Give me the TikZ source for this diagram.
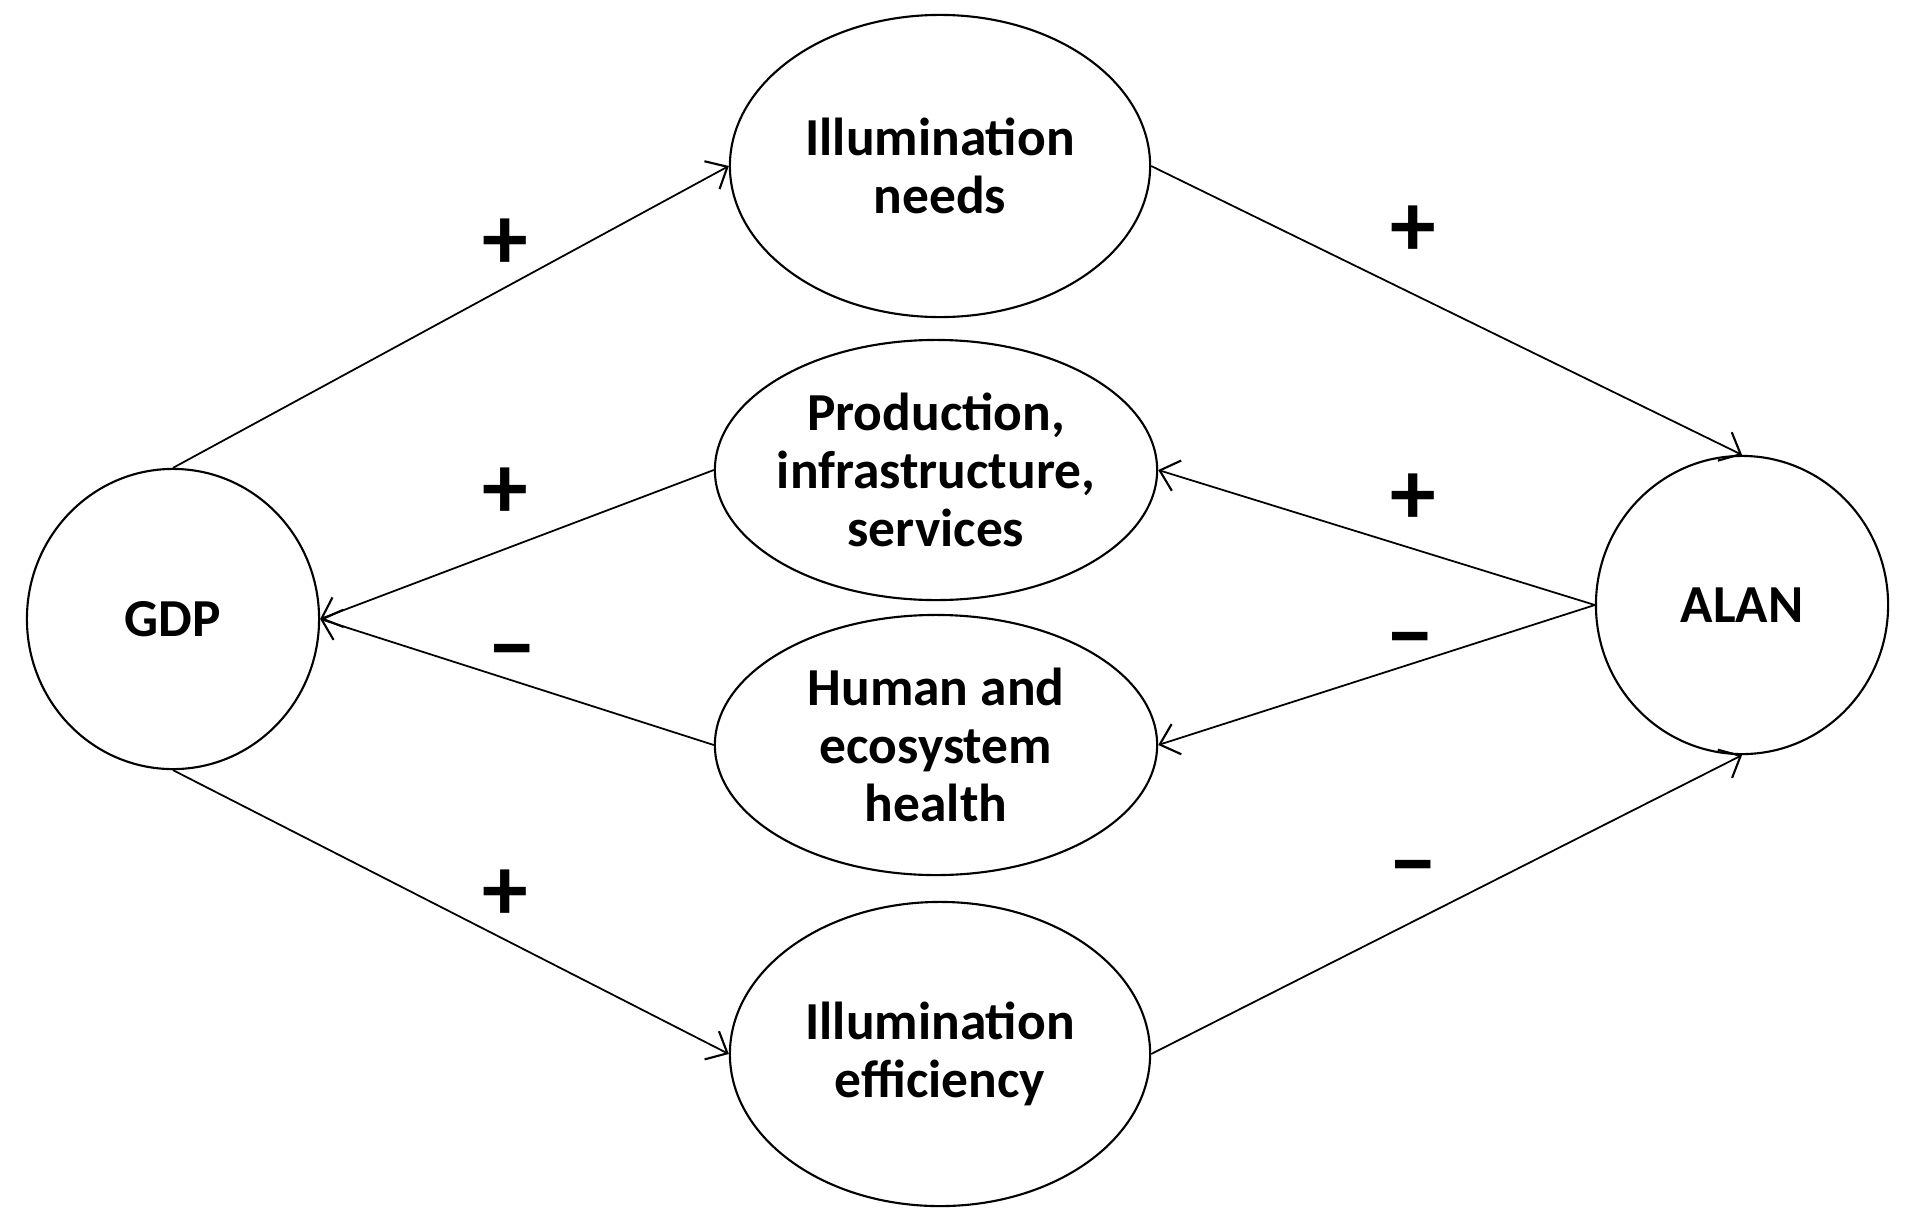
\documentclass[tikz,border=0pt]{standalone}
\usepackage{fontspec}
\setmainfont{Carlito}
\usetikzlibrary{arrows.meta,shapes.geometric}

\begin{document}
\begin{tikzpicture} [
    x=0.01cm, y=-0.01cm,
    block/.style    = { ellipse, draw, line width=0.6pt, align=center, inner sep=-5pt,
                        font=\bfseries\fontsize{15.2}{16.5}\selectfont },
    line/.style     = { draw, line width=0.5pt,
                        -{Straight Barb[length=5pt, width=9pt, line width=0.6pt]}},
    sign/.style     = { font=\bfseries\fontsize{26}{26}\selectfont },
  ]
  \useasboundingbox (0,0) rectangle (1910,1218);

  % Define nodes
  \node[block, minimum width=2.92cm, minimum height=3.00cm](gdp) at (173,619) {GDP};
  \node[block, minimum width=2.92cm, minimum height=2.98cm](alan) at (1742,605) {ALAN};
  \node[block, minimum width=4.20cm, minimum height=3.02cm](needs) at (940,166) {Illumination\\needs};
  \node[block, minimum width=4.42cm, minimum height=2.60cm](prod) at (936,470) {Production,\\infrastructure,\\services};
  \node[block, minimum width=4.42cm, minimum height=2.60cm](health) at (936,745) {Human and\\ecosystem\\health};
  \node[block, minimum width=4.20cm, minimum height=3.04cm](eff) at (940,1054) {Illumination\\efficiency};

  % connect the nodes
  \path [line] (gdp.north) -- (needs.west);
  \path [line] (needs.east) -- (alan.north);
  \path [line] (alan.west) -- (prod.east);
  \path [line] (alan.west) -- (health.east);
  \path [line] (prod.west) -- (gdp.east);
  \path [line] (health.west) -- (gdp.east);
  \path [line] (gdp.south) -- (eff.west);
  \path [line] (eff.east) -- (alan.south);

  % polarity signs
  \node[sign](s1) at (505,244) {+};
  \node[sign](s2) at (1413,231) {+};
  \node[sign](s3) at (505,493) {+};
  \node[sign](s4) at (1413,499) {+};
  \node[sign](s5) at (512,661) {−};
  \node[sign](s6) at (1410,649) {−};
  \node[sign](s7) at (505,895) {+};
  \node[sign](s8) at (1413,877) {−};
\end{tikzpicture}
\end{document}
